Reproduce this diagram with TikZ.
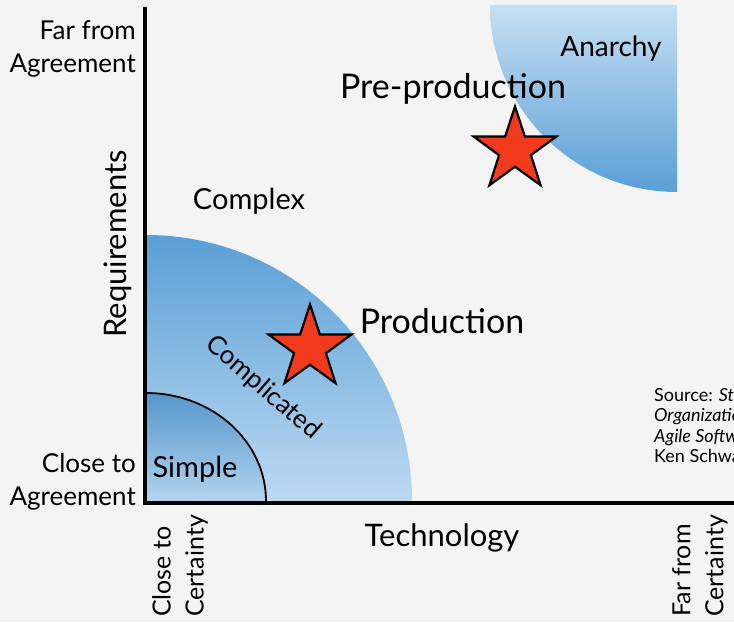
\documentclass[tikz,border=0pt]{standalone}
\usepackage{fontspec}
\setmainfont{Lato}
\usetikzlibrary{shapes.geometric}
\definecolor{bg}{HTML}{F4F4F4}
\definecolor{bluedark}{HTML}{5A9FD6}
\definecolor{bluelight}{HTML}{BCD9F1}
\definecolor{starred}{HTML}{F23B1C}

\begin{document}
\begin{tikzpicture}[x=1pt,y=1pt,
  lbl/.style={inner sep=0pt,font=\fontsize{26}{33}\selectfont},
  midlbl/.style={inner sep=0pt,font=\fontsize{29}{35}\selectfont},
  biglbl/.style={inner sep=0pt,font=\fontsize{34}{40}\selectfont},
  axislbl/.style={inner sep=0pt,font=\fontsize{31}{37}\selectfont},
  staricon/.style={star,star points=5,star point ratio=2.6,minimum size=87pt,inner sep=0pt,fill=starred,draw=black,line width=2.2pt}]
\useasboundingbox (0,0) rectangle (734,622);
\clip (0,0) rectangle (734,622);
\fill[bg] (0,0) rectangle (734,622);

% the regions
\shade[top color=bluedark,bottom color=bluelight] (146,121) -- (412,121) arc[start angle=0,end angle=90,radius=266] -- cycle;
\shade[top color=bluelight!85!white,bottom color=bluedark] (677,617) -- (490,617) arc[start angle=180,end angle=270,radius=187] -- cycle;
\shade[top color=bluedark!95!black,bottom color=bluelight!90!bluedark] (146,121) -- (266,121) arc[start angle=0,end angle=90,x radius=120,y radius=108] -- cycle;
\draw[line width=1.8pt] (266,121) arc[start angle=0,end angle=90,x radius=120,y radius=108];

% the axes
\coordinate (Top) at (144.5,615);
\coordinate (Origin) at (144.5,119.5);
\coordinate (Right) at (734,119.5);
\draw[line width=4pt] (Top) -- (Origin) -- (Right);

% the stars
\node[staricon] (PreStar) at (515,472) {};
\node[staricon] (ProdStar) at (310,274) {};

% the labels
\node[lbl,align=right,anchor=east] (FarAgr) at (136,573) {Far from\\Agreement};
\node[lbl,align=right,anchor=east] (CloseAgr) at (136,140) {Close to\\Agreement};
\node[axislbl,rotate=90] (Req) at (118,378) {Requirements};
\node[midlbl] (Complex) at (249,421) {Complex};
\node[biglbl] (PreProd) at (453,533) {Pre-production};
\node[midlbl,font=\fontsize{28}{34}\selectfont] (Anarchy) at (611,573) {Anarchy};
\node[biglbl] (Prod) at (442,301) {Production};
\node[lbl,rotate=-41] (Complicated) at (263,234) {Complicated};
\node[midlbl] (Simple) at (195,153) {Simple};
\node[axislbl] (Tech) at (442,84) {Technology};
\node[lbl,font=\fontsize{25}{33}\selectfont,align=left,anchor=west,rotate=90] (CloseCert) at (180,5) {Close to\\Certainty};
\node[lbl,font=\fontsize{25}{33}\selectfont,align=left,anchor=west,rotate=90] (FarCert) at (700,5) {Far from\\Certainty};

% the source
\node[inner sep=0pt,anchor=north west,align=left,font=\fontsize{18}{20.5}\selectfont] (Source) at (654,234)
  {Source: \textit{Strategic}\\\textit{Organizational}\\\textit{Agile Software}\\Ken Schwaber};
\end{tikzpicture}
\end{document}
